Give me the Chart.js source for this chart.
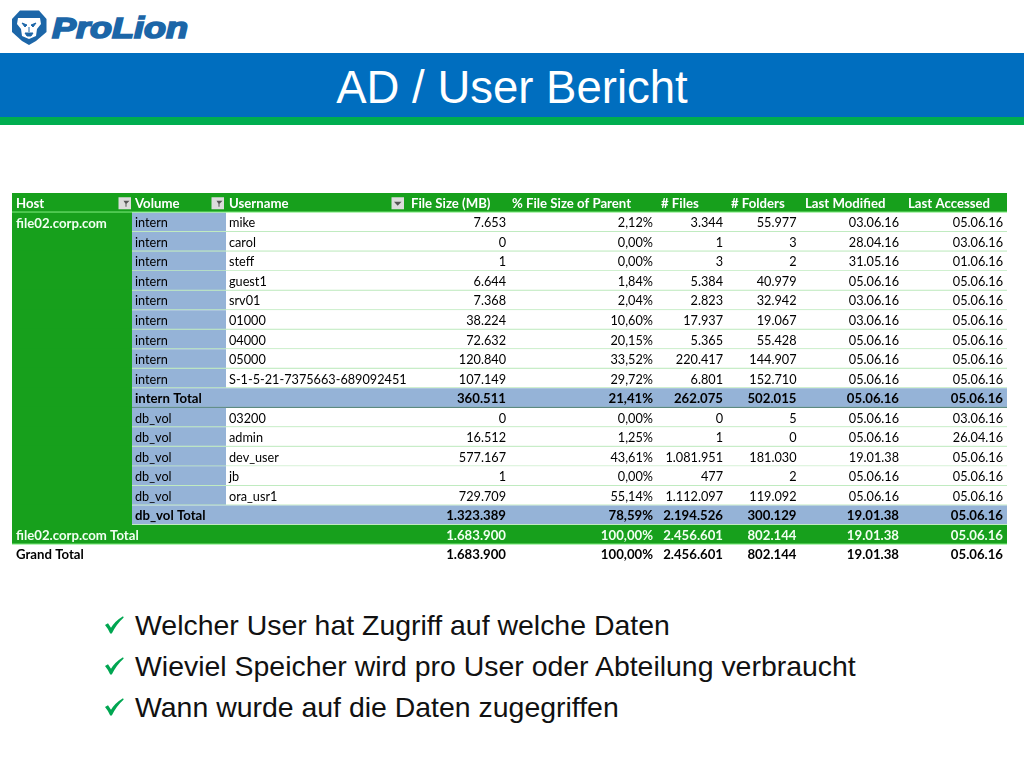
<!DOCTYPE html>
<html lang="de"><head><meta charset="utf-8"><title>AD / User Bericht</title>
<script src="https://cdn.jsdelivr.net/npm/chart.js@4"></script>
<style>
html,body{margin:0;padding:0;background:#fff;width:1024px;height:768px;overflow:hidden;font-family:"Liberation Sans",Arial,sans-serif}
.abs{position:absolute}
#band{left:0;top:53px;width:1024px;height:64px;background:#006EBF}
#stripe{left:0;top:117px;width:1024px;height:8px;background:#00AE50}
#title{left:0;top:59px;width:1024px;text-align:center;color:#fff;font-size:45.5px;line-height:58px}
#logo{left:0;top:0}
#chartWrap{left:0;top:193px;width:1024px;height:371px}
.bul{left:135px;font-size:28.45px;line-height:36px;color:#111;white-space:nowrap}
.chk{left:103px;}
</style></head><body>
<svg id="logo" class="abs" width="200" height="50" viewBox="0 0 200 50">
<path d="M20 10.5 H39 L46.5 19 V32 L36 41 L29 45 L22 41 L12 32 V19 Z" fill="#1C66A8"/>
<path d="M18 18 H40 L41 24 L37 29 L36 36 L29 39 L22 36 L21 29 L17 24 Z" fill="#fff"/>
<path d="M22 23 L27 25 L25 27 Z M36 23 L31 25 L33 27 Z M25 33 H33 L31 36 H27 Z M29 27 V32" fill="#1C66A8" stroke="#1C66A8"/>
<text x="52" y="37.5" font-family="Liberation Sans" font-weight="700" font-style="italic" font-size="29" fill="#1C66A8" stroke="#1C66A8" stroke-width="1.7" textLength="136" lengthAdjust="spacingAndGlyphs">ProLion</text>
</svg>
<div id="band" class="abs"></div><div id="stripe" class="abs"></div>
<div id="title" class="abs">AD / User Bericht</div>
<div id="chartWrap" class="abs"><canvas id="c" width="1024" height="371" style="width:1024px;height:371px"></canvas></div>
<svg class="abs chk" style="top:615px" width="22" height="20" viewBox="0 0 22 20"><path d="M2 10 L5 8.3 L8 12.7 Q12 6 20 1.2 L20.7 2.5 Q13.5 9 8.8 18.5 H7.2 Q5 13.5 2 10Z" fill="#00A651"/></svg>
<svg class="abs chk" style="top:656px" width="22" height="20" viewBox="0 0 22 20"><path d="M2 10 L5 8.3 L8 12.7 Q12 6 20 1.2 L20.7 2.5 Q13.5 9 8.8 18.5 H7.2 Q5 13.5 2 10Z" fill="#00A651"/></svg>
<svg class="abs chk" style="top:697px" width="22" height="20" viewBox="0 0 22 20"><path d="M2 10 L5 8.3 L8 12.7 Q12 6 20 1.2 L20.7 2.5 Q13.5 9 8.8 18.5 H7.2 Q5 13.5 2 10Z" fill="#00A651"/></svg>
<div class="abs bul" style="top:607px">Welcher User hat Zugriff auf welche Daten</div>
<div class="abs bul" style="top:648px">Wieviel Speicher wird pro User oder Abteilung verbraucht</div>
<div class="abs bul" style="top:689px">Wann wurde auf die Daten zugegriffen</div>
<script>
const headers = ["Host","Volume","Username","File Size (MB)","% File Size of Parent","# Files","# Folders","Last Modified","Last Accessed"];
const hosts = ["","file02.corp.com","","","","","","","","","","","","","","","","file02.corp.com Total","Grand Total"];
const volumes = ["","intern","intern","intern","intern","intern","intern","intern","intern","intern","intern Total","db_vol","db_vol","db_vol","db_vol","db_vol","db_vol Total","",""];
const usernames = ["","mike","carol","steff","guest1","srv01","01000","04000","05000","S-1-5-21-7375663-6890924511","","03200","admin","dev_user","jb","ora_usr1","","",""];
const fileSize = ["","7.653","0","1","6.644","7.368","38.224","72.632","120.840","107.149","360.511","0","16.512","577.167","1","729.709","1.323.389","1.683.900","1.683.900"];
const pctParent = ["","2,12%","0,00%","0,00%","1,84%","2,04%","10,60%","20,15%","33,52%","29,72%","21,41%","0,00%","1,25%","43,61%","0,00%","55,14%","78,59%","100,00%","100,00%"];
const files = ["","3.344","1","3","5.384","2.823","17.937","5.365","220.417","6.801","262.075","0","1","1.081.951","477","1.112.097","2.194.526","2.456.601","2.456.601"];
const folders = ["","55.977","3","2","40.979","32.942","19.067","55.428","144.907","152.710","502.015","5","0","181.030","2","119.092","300.129","802.144","802.144"];
const lastModified = ["","03.06.16","28.04.16","31.05.16","05.06.16","03.06.16","03.06.16","05.06.16","05.06.16","05.06.16","05.06.16","05.06.16","05.06.16","19.01.38","05.06.16","05.06.16","19.01.38","19.01.38","19.01.38"];
const lastAccessed = ["","05.06.16","03.06.16","01.06.16","05.06.16","05.06.16","05.06.16","05.06.16","05.06.16","05.06.16","05.06.16","03.06.16","26.04.16","05.06.16","05.06.16","05.06.16","05.06.16","05.06.16","05.06.16"];
const rowKinds = ["head","item","item","item","item","item","item","item","item","item","sub","item","item","item","item","item","sub","host","grand"];

const rowIds = rowKinds.map((k,i)=>"row"+i);
const GREEN="#17A01C", BLUE="#95B3D7", LINE="#C0EBC0", BRIGHT="#7BE87B", DARK="#5C8A80", INK="#000";
const X={left:12,vol:132,user:226,right:1007,userClip:407};
const rightCols=[[fileSize,506],[pctParent,653],[files,723],[folders,796.5],[lastModified,899],[lastAccessed,1003]];
const headerX=[16,135,229,411,512,661,731,805,908];
const FONT='"Lato","Open Sans",sans-serif', FS=12.7, FSB=13.2;

function bannerSpan(k){return k==="head"||k==="host"?[X.left,X.right]:null;}
function hostSpan(k){return k==="item"||k==="sub"?[X.left,X.vol]:null;}
function blueSpan(k){return k==="item"?[X.vol,X.user]:(k==="sub"?[X.vol,X.right]:null);}
function whiteSpan(k){return k==="item"?[X.user,X.right]:null;}

const tablePlugin={id:"tableText",afterDatasetsDraw(ch){
  const c=ch.ctx,x=ch.scales.x,y=ch.scales.y;
  const put=(t,px,i,al,col,bold)=>{if(!t)return;c.font=(bold?"700 "+FSB:"400 "+FS)+"px "+FONT;c.textAlign=al;c.textBaseline="middle";c.fillStyle=col;c.fillText(t,x.getPixelForValue(px),y.getPixelForValue(i)+1);};
  c.save();
  headers.forEach((h,j)=>put(h,headerX[j],0,"left","#fff",true));
  [[118.5,1],[211.5,1],[391.5,0]].forEach(([px,f])=>{
    const l=x.getPixelForValue(px),m=y.getPixelForValue(0);
    c.fillStyle="#DCDCDC";c.fillRect(l,m-5.5,12.5,12);
    c.fillStyle="#555";c.beginPath();
    if(f){c.moveTo(l+5,m-2);c.lineTo(l+11,m-2);c.lineTo(l+8,m+1);c.lineTo(l+8,m+4);c.lineTo(l+7,m+4);c.lineTo(l+7,m+1);}
    else{c.moveTo(l+2.5,m-1);c.lineTo(l+10,m-1);c.lineTo(l+6.2,m+3);}
    c.closePath();c.fill();
  });
  rowKinds.forEach((k,i)=>{
    const bold=k!=="item"; const col=k==="host"?"#F2FFF2":INK;
    put(hosts[i],16,i,"left",k==="grand"?INK:"#F2FFF2",true);
    put(volumes[i],135,i,"left",INK,k==="sub");
    c.save();c.beginPath();c.rect(x.getPixelForValue(X.user),0,x.getPixelForValue(X.userClip)-x.getPixelForValue(X.user),ch.height);c.clip();
    put(usernames[i],229,i,"left",INK,false);c.restore();
    rightCols.forEach(([arr,r])=>put(arr[i],r,i,"right",col,bold));
  });
  c.restore();
}};

const cellSet=(label,spanFn,fill,borderCol,bw,order,pct)=>({label,data:rowKinds.map(spanFn),backgroundColor:fill,borderColor:borderCol,borderWidth:bw,borderSkipped:false,barPercentage:pct,categoryPercentage:1,grouped:false,order});
const bottomLine=()=>({bottom:1.3});

new Chart(document.getElementById("c"),{
  type:"bar",
  data:{labels:rowIds,datasets:[
    cellSet("Banner",bannerSpan,GREEN,BRIGHT,bottomLine,1,1),
    cellSet("Host",hostSpan,GREEN,GREEN,0,5,1.1),
    cellSet("Blue",blueSpan,BLUE,c=>c.dataIndex===10?DARK:LINE,bottomLine,2,1),
    cellSet("White",whiteSpan,"#fff",LINE,bottomLine,2,1)
  ]},
  plugins:[tablePlugin],
  options:{indexAxis:"y",responsive:false,animation:false,devicePixelRatio:1,
    layout:{padding:0},
    plugins:{legend:{display:false},tooltip:{enabled:false},title:{display:false}},
    scales:{x:{type:"linear",min:0,max:1024,display:false},y:{type:"category",display:false,offset:true}}}
});
</script>
</body></html>
